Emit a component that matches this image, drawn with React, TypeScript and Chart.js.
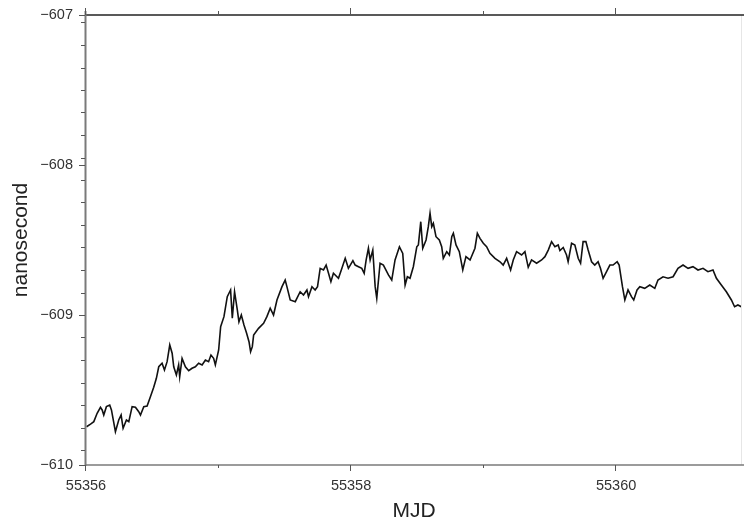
import React, { useEffect, useRef } from "react";
import { Chart, registerables } from "chart.js";

Chart.register(...registerables);

const MJD = [
  55356.004, 55356.034, 55356.059, 55356.084, 55356.109, 55356.122, 55356.134, 55356.154, 55356.179, 55356.192,
  55356.222, 55356.247, 55356.265, 55356.280, 55356.305, 55356.323, 55356.348, 55356.373, 55356.398, 55356.411,
  55356.436, 55356.461, 55356.486, 55356.511, 55356.531, 55356.549, 55356.574, 55356.592, 55356.612, 55356.632,
  55356.650, 55356.662, 55356.682, 55356.699, 55356.707, 55356.725, 55356.750, 55356.775, 55356.800, 55356.825,
  55356.850, 55356.876, 55356.901, 55356.925, 55356.943, 55356.963, 55356.976, 55357.001, 55357.016, 55357.041,
  55357.066, 55357.091, 55357.104, 55357.121, 55357.142, 55357.154, 55357.172, 55357.192, 55357.212, 55357.230,
  55357.242, 55357.255, 55357.265, 55357.302, 55357.340, 55357.365, 55357.390, 55357.415, 55357.441, 55357.479,
  55357.503, 55357.516, 55357.541, 55357.579, 55357.616, 55357.641, 55357.667, 55357.679, 55357.705, 55357.729,
  55357.747, 55357.767, 55357.792, 55357.812, 55357.830, 55357.848, 55357.867, 55357.905, 55357.931, 55357.956,
  55357.980, 55358.014, 55358.031, 55358.056, 55358.081, 55358.099, 55358.114, 55358.131, 55358.144, 55358.164,
  55358.182, 55358.194, 55358.219, 55358.244, 55358.282, 55358.307, 55358.332, 55358.365, 55358.390, 55358.408,
  55358.425, 55358.445, 55358.470, 55358.496, 55358.508, 55358.526, 55358.541, 55358.566, 55358.583, 55358.596,
  55358.609, 55358.621, 55358.641, 55358.666, 55358.684, 55358.696, 55358.722, 55358.742, 55358.760, 55358.772,
  55358.792, 55358.817, 55358.843, 55358.867, 55358.898, 55358.935, 55358.953, 55358.973, 55358.998, 55359.023,
  55359.048, 55359.086, 55359.124, 55359.148, 55359.174, 55359.204, 55359.224, 55359.249, 55359.287, 55359.312,
  55359.337, 55359.362, 55359.400, 55359.438, 55359.463, 55359.488, 55359.513, 55359.538, 55359.563, 55359.576,
  55359.601, 55359.626, 55359.638, 55359.664, 55359.689, 55359.714, 55359.732, 55359.751, 55359.772, 55359.789,
  55359.815, 55359.839, 55359.864, 55359.882, 55359.902, 55359.928, 55359.953, 55359.977, 55360.008, 55360.023,
  55360.048, 55360.066, 55360.090, 55360.116, 55360.133, 55360.158, 55360.179, 55360.216, 55360.254, 55360.292,
  55360.316, 55360.354, 55360.392, 55360.430, 55360.467, 55360.505, 55360.543, 55360.580, 55360.618, 55360.656,
  55360.693, 55360.731, 55360.757, 55360.794, 55360.832, 55360.870, 55360.894, 55360.919, 55360.945,
];

const NANOSECOND = [
  -609.745, -609.727, -609.711, -609.655, -609.615, -609.633, -609.667, -609.611, -609.600, -609.633,
  -609.778, -609.700, -609.667, -609.755, -609.700, -609.711, -609.611, -609.615, -609.645, -609.667,
  -609.611, -609.607, -609.545, -609.482, -609.422, -609.345, -609.322, -609.367, -609.311, -609.200,
  -609.255, -609.345, -609.400, -609.333, -609.411, -609.289, -609.345, -609.371, -609.355, -609.345,
  -609.322, -609.333, -609.300, -609.311, -609.267, -609.289, -609.333, -609.233, -609.078, -609.011,
  -608.878, -608.833, -609.022, -608.845, -608.967, -609.045, -609.000, -609.067, -609.122, -609.178,
  -609.245, -609.211, -609.133, -609.089, -609.055, -609.011, -608.955, -609.000, -608.900, -608.811,
  -608.767, -608.811, -608.900, -608.911, -608.845, -608.867, -608.833, -608.878, -608.811, -608.833,
  -608.811, -608.689, -608.700, -608.667, -608.722, -608.778, -608.722, -608.755, -608.689, -608.622,
  -608.689, -608.638, -608.667, -608.678, -608.689, -608.722, -608.633, -608.555, -608.633, -608.567,
  -608.811, -608.889, -608.655, -608.667, -608.733, -608.767, -608.633, -608.545, -608.589, -608.800,
  -608.745, -608.755, -608.678, -608.545, -608.533, -608.378, -608.555, -608.500, -608.411, -608.322,
  -608.411, -608.389, -608.478, -608.500, -608.545, -608.622, -608.578, -608.600, -608.478, -608.455,
  -608.533, -608.578, -608.700, -608.611, -608.633, -608.555, -608.455, -608.489, -608.522, -608.545,
  -608.589, -608.622, -608.645, -608.667, -608.622, -608.700, -608.633, -608.578, -608.600, -608.578,
  -608.682, -608.633, -608.655, -608.633, -608.611, -608.567, -608.511, -608.545, -608.533, -608.570,
  -608.550, -608.600, -608.645, -608.522, -608.533, -608.622, -608.655, -608.511, -608.511, -608.567,
  -608.645, -608.667, -608.645, -608.689, -608.755, -608.711, -608.667, -608.667, -608.645, -608.667,
  -608.811, -608.900, -608.833, -608.878, -608.900, -608.833, -608.811, -608.822, -608.800, -608.822,
  -608.767, -608.745, -608.755, -608.745, -608.689, -608.667, -608.689, -608.678, -608.700, -608.689,
  -608.711, -608.700, -608.755, -608.800, -608.845, -608.900, -608.945, -608.933, -608.945,
];

const X_MIN = 55356;
const X_MAX = 55360.95;
const X_LABEL_TICKS = [55356, 55358, 55360];
const X_MINOR_TICKS = [55357, 55359];
const Y_MIN = -610;
const Y_MAX = -607;
const Y_LABEL_TICKS = [-610, -609, -608, -607];
const Y_MINOR_TICKS = [
  -609.9, -609.75, -609.6, -609.45, -609.3, -609.15, -608.85, -608.7, -608.55, -608.4,
  -608.25, -608.1, -607.95, -607.8, -607.65, -607.5, -607.35, -607.2, -607.05,
];

const FONT = "'Liberation Sans', Arial, sans-serif";

const axesPlugin = {
  id: "customAxes",
  afterDatasetsDraw(chart: any) {
    const { ctx, chartArea } = chart;
    const xs = chart.scales.x;
    const ys = chart.scales.y;
    const { left, right, top, bottom } = chartArea;
    ctx.save();
    ctx.strokeStyle = "#e6e6e6";
    ctx.lineWidth = 1;
    ctx.beginPath();
    ctx.moveTo(right - 0.5, top);
    ctx.lineTo(right - 0.5, bottom);
    ctx.stroke();
    ctx.strokeStyle = "#222";
    ctx.lineWidth = 1.5;
    ctx.beginPath();
    ctx.moveTo(left, top);
    ctx.lineTo(chart.width, top);
    ctx.stroke();
    ctx.strokeStyle = "#7a7a7a";
    ctx.lineWidth = 2;
    ctx.beginPath();
    ctx.moveTo(left - 0.5, top - 4);
    ctx.lineTo(left - 0.5, bottom + 1);
    ctx.stroke();
    ctx.lineWidth = 1.5;
    ctx.beginPath();
    ctx.moveTo(left - 1, bottom);
    ctx.lineTo(chart.width, bottom);
    ctx.stroke();
    ctx.strokeStyle = "#555";
    ctx.lineWidth = 1;
    Y_LABEL_TICKS.forEach((v) => {
      const p = Math.round(ys.getPixelForValue(v)) + 0.5;
      ctx.beginPath();
      ctx.moveTo(left - 7, p);
      ctx.lineTo(left - 1, p);
      ctx.stroke();
    });
    Y_MINOR_TICKS.forEach((v) => {
      const p = Math.round(ys.getPixelForValue(v)) + 0.5;
      ctx.beginPath();
      ctx.moveTo(left - 5, p);
      ctx.lineTo(left - 1, p);
      ctx.stroke();
    });
    X_LABEL_TICKS.forEach((v) => {
      const p = Math.round(xs.getPixelForValue(v)) - 0.5;
      ctx.beginPath();
      ctx.moveTo(p, bottom);
      ctx.lineTo(p, bottom + 6);
      ctx.stroke();
      ctx.beginPath();
      ctx.moveTo(p, top - 7);
      ctx.lineTo(p, top);
      ctx.stroke();
    });
    X_MINOR_TICKS.forEach((v) => {
      const p = Math.round(xs.getPixelForValue(v)) - 0.5;
      ctx.beginPath();
      ctx.moveTo(p, bottom);
      ctx.lineTo(p, bottom + 3);
      ctx.stroke();
      ctx.beginPath();
      ctx.moveTo(p, top - 4);
      ctx.lineTo(p, top);
      ctx.stroke();
    });
    ctx.restore();
  },
};

export default function App() {
  const ref = useRef<HTMLCanvasElement | null>(null);

  useEffect(() => {
    if (!ref.current) return;
    const data = MJD.map((m, i) => ({ x: m, y: NANOSECOND[i] }));
    const chart = new Chart(ref.current, {
      type: "line",
      data: {
        datasets: [
          {
            data,
            borderColor: "#111",
            borderWidth: 1.6,
            pointRadius: 0,
            tension: 0,
            fill: false,
          },
        ],
      },
      options: {
        responsive: false,
        animation: false,
        devicePixelRatio: 1,
        layout: { padding: { top: 15, right: 2, left: 0, bottom: 0 } },
        plugins: { legend: { display: false }, tooltip: { enabled: false } },
        scales: {
          x: {
            type: "linear",
            position: "bottom",
            min: X_MIN,
            max: X_MAX,
            afterBuildTicks: (s: any) => {
              s.ticks = X_LABEL_TICKS.map((v) => ({ value: v }));
            },
            afterFit: (s: any) => {
              s.height = 60;
              s.paddingLeft = 0;
              s.paddingRight = 0;
            },
            grid: { display: false, drawTicks: false },
            border: { display: false },
            ticks: {
              autoSkip: false,
              maxRotation: 0,
              padding: 12,
              color: "#333",
              font: { family: FONT, size: 14.5 },
              callback: (v: any) => String(v),
            },
            title: {
              display: true,
              text: "MJD",
              color: "#222",
              font: { family: FONT, size: 21 },
              padding: { top: 0, bottom: 1 },
            },
          },
          y: {
            type: "linear",
            position: "left",
            min: Y_MIN,
            max: Y_MAX,
            afterBuildTicks: (s: any) => {
              s.ticks = Y_LABEL_TICKS.map((v) => ({ value: v }));
            },
            afterFit: (s: any) => {
              s.width = 86;
              s.paddingTop = 0;
              s.paddingBottom = 0;
            },
            grid: { display: false, drawTicks: false },
            border: { display: false },
            ticks: {
              padding: 13,
              color: "#333",
              font: { family: FONT, size: 14.5 },
              callback: (v: any) => (v < 0 ? "\u2212" + Math.abs(v) : String(v)),
            },
            title: {
              display: true,
              text: "nanosecond",
              color: "#222",
              font: { family: FONT, size: 21 },
              padding: { top: 9, bottom: 0 },
            },
          },
        },
      },
      plugins: [axesPlugin],
    });
    return () => chart.destroy();
  }, []);

  return (
    <div style={{ position: "fixed", left: 0, top: 0, width: 744, height: 525, background: "#fff" }}>
      <canvas ref={ref} width={744} height={525} style={{ display: "block" }} />
    </div>
  );
}
